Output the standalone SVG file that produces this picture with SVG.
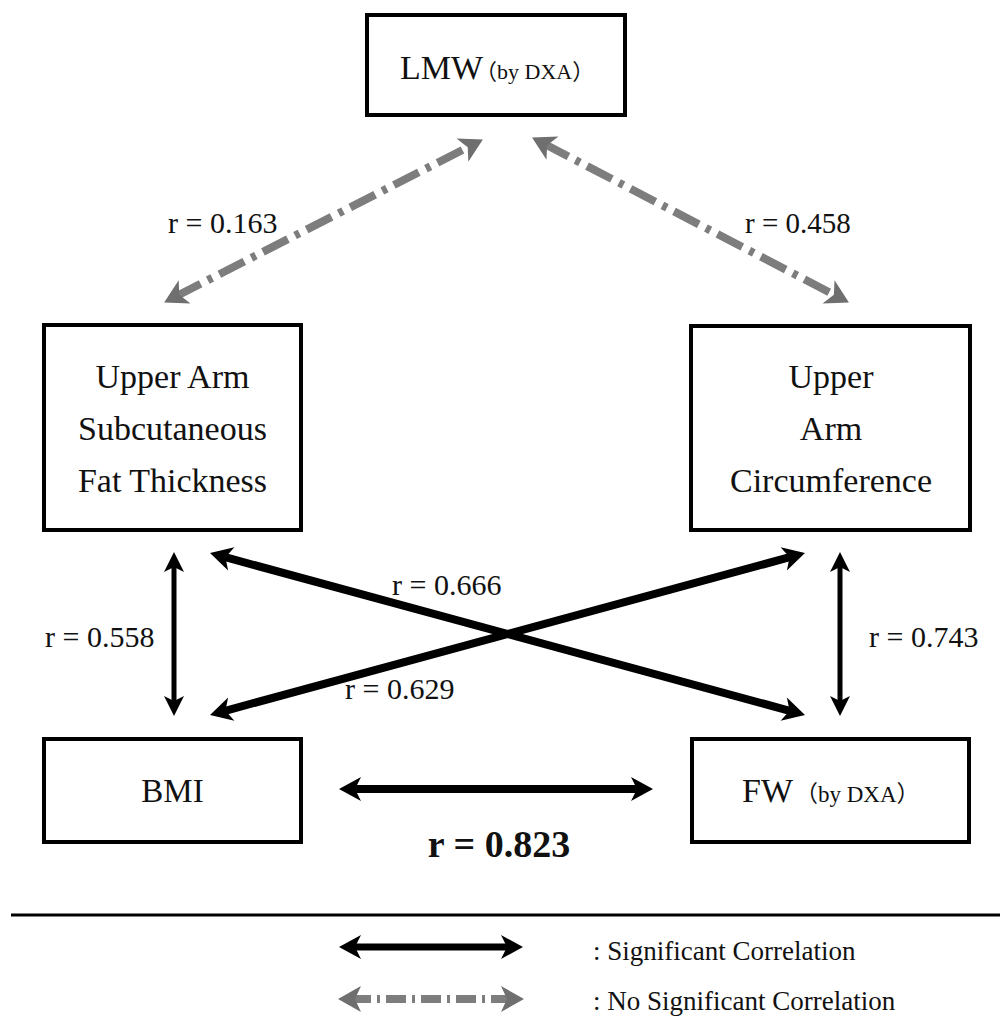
<svg xmlns="http://www.w3.org/2000/svg" width="1000" height="1016" viewBox="0 0 1000 1016">
<style>
.box{fill:#fff;stroke:#000;stroke-width:4}
.t{font-family:"Liberation Serif","Noto Sans CJK SC",serif;fill:#111}
.n{font-size:34px;text-anchor:middle}
.lab{font-size:30px}
.small{font-size:22px}
.sig{stroke:#000;fill:none}
.ns{stroke:#7d7d7d;fill:none;stroke-width:8;stroke-dasharray:28 8 5 8}
</style>
<defs>
<marker id="ah" markerUnits="userSpaceOnUse" markerWidth="30" markerHeight="30" refX="10" refY="0" orient="auto-start-reverse" overflow="visible">
<path d="M22,0 L0,-12 L6,0 L0,12 Z" fill="#000"/>
</marker>
<marker id="ahs" markerUnits="userSpaceOnUse" markerWidth="30" markerHeight="30" refX="10" refY="0" orient="auto-start-reverse" overflow="visible">
<path d="M20,0 L0,-10 L5,0 L0,10 Z" fill="#000"/>
</marker>
<marker id="ahg" markerUnits="userSpaceOnUse" markerWidth="30" markerHeight="30" refX="10" refY="0" orient="auto-start-reverse" overflow="visible">
<path d="M23,0 L0,-13 L6,0 L0,13 Z" fill="#6f6f6f"/>
</marker>
</defs>

<g id="connectors">
<line class="ns" x1="175.7" y1="296.5" x2="471.3" y2="145.5" marker-start="url(#ahg)" marker-end="url(#ahg)"/>
<line class="ns" x1="543.6" y1="143.5" x2="837.4" y2="296.5" marker-start="url(#ahg)" marker-end="url(#ahg)"/>
<line class="sig" stroke-width="5" x1="174" y1="562" x2="174" y2="706" marker-start="url(#ahs)" marker-end="url(#ahs)"/>
<line class="sig" stroke-width="5" x1="840" y1="562" x2="840" y2="706" marker-start="url(#ahs)" marker-end="url(#ahs)"/>
<line class="sig" stroke-width="8" x1="221.6" y1="556.2" x2="793.4" y2="711.8" marker-start="url(#ah)" marker-end="url(#ah)"/>
<line class="sig" stroke-width="8" x1="221.6" y1="711.8" x2="793.4" y2="556.2" marker-start="url(#ah)" marker-end="url(#ah)"/>
<line class="sig" stroke-width="8" x1="351" y1="789" x2="641" y2="789" marker-start="url(#ah)" marker-end="url(#ah)"/>
</g>

<g id="labels">
<text class="t lab" x="168" y="233">r = 0.163</text>
<text class="t lab" x="745" y="233" style="font-size:29px">r = 0.458</text>
<text class="t lab" x="392" y="595">r = 0.666</text>
<text class="t lab" x="345" y="699">r = 0.629</text>
<text class="t lab" x="45" y="647">r = 0.558</text>
<text class="t lab" x="869" y="647">r = 0.743</text>
<text class="t" x="499" y="857" style="font-size:38px;font-weight:bold;text-anchor:middle">r = 0.823</text>
</g>

<g id="node-lmw">
<rect class="box" x="367" y="15" width="258" height="100"/>
<text class="t" x="400" y="79" style="font-size:34px">LMW<tspan class="small" dx="-8">（by DXA）</tspan></text>
</g>

<g id="node-uast">
<rect class="box" x="44" y="325" width="257" height="205"/>
<text class="t n" x="172.5" y="388">Upper Arm</text>
<text class="t n" x="172.5" y="440">Subcutaneous</text>
<text class="t n" x="172.5" y="492">Fat Thickness</text>
</g>

<g id="node-uac">
<rect class="box" x="691" y="326" width="279" height="204"/>
<text class="t n" x="831" y="388">Upper</text>
<text class="t n" x="831" y="440">Arm</text>
<text class="t n" x="831" y="492">Circumference</text>
</g>

<g id="node-bmi">
<rect class="box" x="44" y="739" width="257" height="103"/>
<text class="t n" x="172.5" y="802" style="font-size:33px">BMI</text>
</g>

<g id="node-fw">
<rect class="box" x="692" y="739" width="277" height="103"/>
<text class="t" x="742" y="802" style="font-size:34px">FW<tspan style="font-size:23px" dx="2">（by DXA）</tspan></text>
</g>

<g id="legend">
<line x1="11" y1="915" x2="1000" y2="915" stroke="#000" stroke-width="3"/>
<line class="sig" stroke-width="7" x1="351" y1="947" x2="511" y2="947" marker-start="url(#ah)" marker-end="url(#ah)"/>
<line class="ns" style="stroke-dasharray:20 6 3 6" x1="351" y1="999" x2="511" y2="999" marker-start="url(#ahg)" marker-end="url(#ahg)"/>
<text class="t" x="593" y="960" style="font-size:27px">: Significant Correlation</text>
<text class="t" x="593" y="1010" style="font-size:27px">: No Significant Correlation</text>
</g>
</svg>
